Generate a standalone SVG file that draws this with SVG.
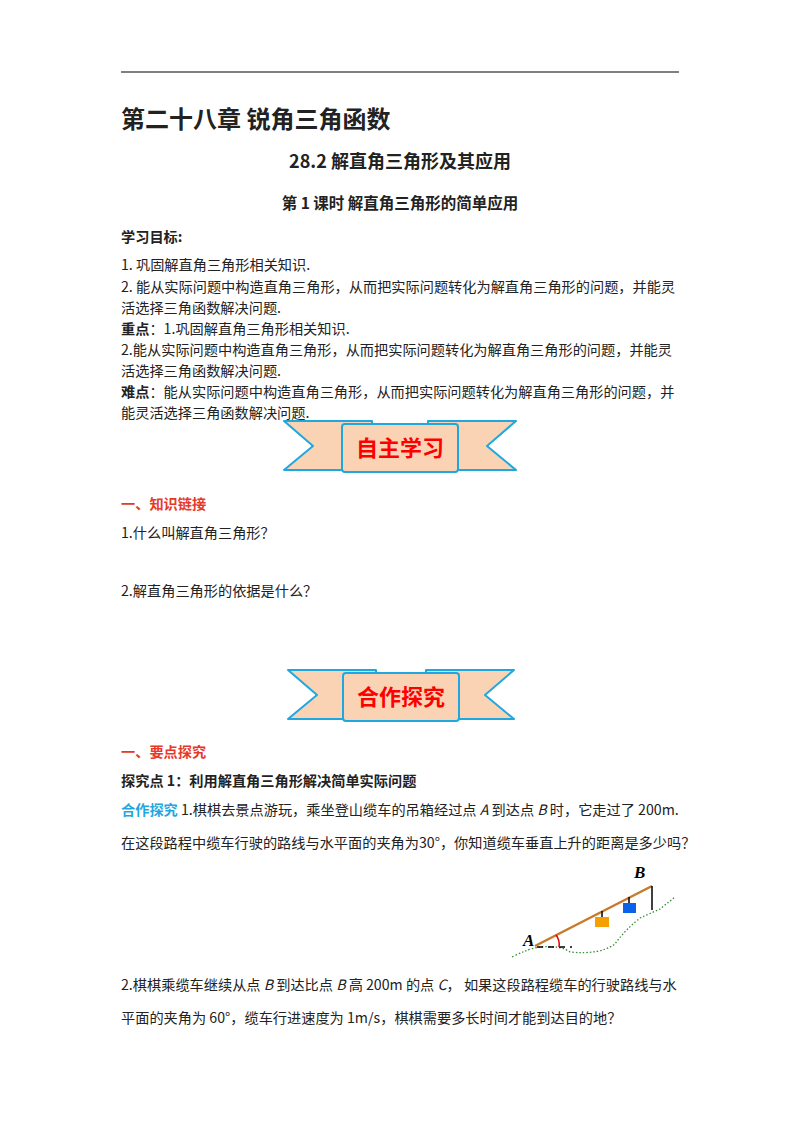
<svg xmlns="http://www.w3.org/2000/svg" width="800" height="1132" viewBox="0 0 800 1132" xml:space="preserve">
<style>
.t{font-family:"Noto Sans CJK SC","Liberation Sans",sans-serif;font-size:14.2px;fill:#222}
.b{font-weight:bold}
.r{fill:#e8382a;font-weight:bold}
.bn{fill:#f9d3b4;stroke:#1fa8e0;stroke-width:2;stroke-linejoin:round}
.bt{font-family:"Noto Sans CJK SC",sans-serif;font-size:22px;font-weight:bold;fill:#f00}
</style>
<rect width="800" height="1132" fill="#fff"/>
<line x1="121" y1="72" x2="679" y2="72" stroke="#000" stroke-width="1.2"/>
<text class="t b" x="121" y="128" style="font-size:24px">第二十八章  锐角三角函数</text>
<text class="t b" x="400" y="168" text-anchor="middle" style="font-size:18px">28.2  解直角三角形及其应用</text>
<text class="t b" x="400" y="209" text-anchor="middle" style="font-size:15.5px">第 1 课时    解直角三角形的简单应用</text>
<text class="t b" x="121" y="242">学习目标:</text>
<text class="t" x="121" y="270">1.   巩固解直角三角形相关知识.</text>
<text class="t" x="121" y="292">2.   能从实际问题中构造直角三角形，从而把实际问题转化为解直角三角形的问题，并能灵</text>
<text class="t" x="121" y="313">活选择三角函数解决问题.</text>
<text class="t" x="121" y="334"><tspan class="b">重点</tspan>：1.巩固解直角三角形相关知识.</text>
<text class="t" x="121" y="355">2.能从实际问题中构造直角三角形，从而把实际问题转化为解直角三角形的问题，并能灵</text>
<text class="t" x="121" y="376">活选择三角函数解决问题.</text>
<text class="t" x="121" y="397"><tspan class="b">难点</tspan>：能从实际问题中构造直角三角形，从而把实际问题转化为解直角三角形的问题，并</text>
<text class="t" x="121" y="418">能灵活选择三角函数解决问题.</text>
<g id="banner1">
<path class="bn" d="M284,421 L372,421 L372,470 L284,470 L313,446 Z"/>
<path class="bn" d="M428,421 L516,421 L487,446 L516,470 L428,470 Z"/>
<rect class="bn" x="342" y="424" width="116" height="48" rx="3"/>
<text class="bt" x="400" y="456" text-anchor="middle">自主学习</text>
</g>
<text class="t r" x="121" y="509">一、知识链接</text>
<text class="t" x="121" y="538">1.什么叫解直角三角形？</text>
<text class="t" x="121" y="596">2.解直角三角形的依据是什么？</text>
<g id="banner2">
<path class="bn" d="M288,670 L376,670 L376,719 L288,719 L317,695 Z"/>
<path class="bn" d="M426,670 L514,670 L485,695 L514,719 L426,719 Z"/>
<rect class="bn" x="343" y="673" width="116" height="48" rx="3"/>
<text class="bt" x="401" y="705" text-anchor="middle">合作探究</text>
</g>
<text class="t r" x="121" y="757">一、要点探究</text>
<text class="t b" x="121" y="786">探究点 1：利用解直角三角形解决简单实际问题</text>
<text class="t" x="121" y="815"><tspan fill="#1fa8e0" font-weight="bold">合作探究</tspan>    1.棋棋去景点游玩，乘坐登山缆车的吊箱经过点 <tspan font-style="italic">A</tspan> 到达点 <tspan font-style="italic">B</tspan> 时，它走过了 200m.</text>
<text class="t" x="121" y="848">在这段路程中缆车行驶的路线与水平面的夹角为30°，你知道缆车垂直上升的距离是多少吗？</text>
<g id="figure">
<path d="M512,957 Q530,948 540,947 Q560,945 570,952 Q600,955 615,944 Q625,930 640,918 L660,909 L675,897" fill="none" stroke="#3a8a3a" stroke-width="1.3" stroke-dasharray="1.5,2"/>
<line x1="535" y1="946" x2="652" y2="886" stroke="#c87a2a" stroke-width="2.5"/>
<line x1="652" y1="886" x2="652" y2="910" stroke="#000" stroke-width="1.5"/>
<line x1="537" y1="947" x2="572" y2="947" stroke="#000" stroke-width="1.5" stroke-dasharray="6,5"/>
<path d="M556,935 Q560,940 559,947" fill="none" stroke="#d00" stroke-width="1.5"/>
<line x1="602" y1="911" x2="602" y2="917" stroke="#000" stroke-width="1.5"/>
<rect x="595" y="917" width="14" height="10" fill="#f5a000"/>
<line x1="629" y1="897" x2="629" y2="903" stroke="#000" stroke-width="1.5"/>
<rect x="623" y="903" width="13" height="10" fill="#0a62e8"/>
<text x="523" y="946" font-family="Liberation Serif,serif" font-size="17" font-weight="bold" font-style="italic">A</text>
<text x="634" y="878" font-family="Liberation Serif,serif" font-size="17" font-weight="bold" font-style="italic">B</text>
</g>
<text class="t" x="121" y="990">2.棋棋乘缆车继续从点 <tspan font-style="italic">B</tspan> 到达比点 <tspan font-style="italic">B</tspan> 高  200m 的点 <tspan font-style="italic">C</tspan>，   如果这段路程缆车的行驶路线与水</text>
<text class="t" x="121" y="1023">平面的夹角为 60°，缆车行进速度为 1m/s，棋棋需要多长时间才能到达目的地？</text>
</svg>
